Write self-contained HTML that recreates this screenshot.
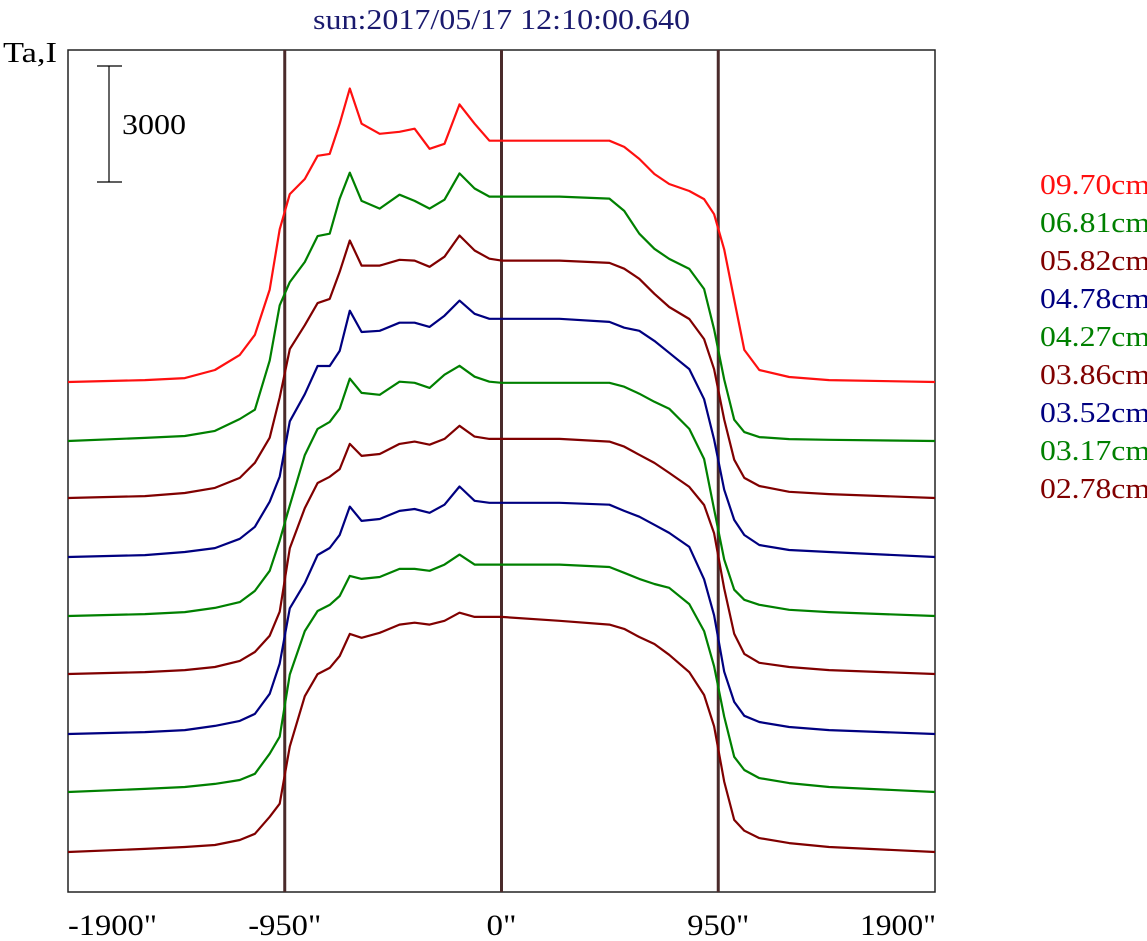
<!DOCTYPE html>
<html><head><meta charset="utf-8"><style>
html,body{margin:0;padding:0;background:#fff;}
svg{display:block;font-family:"Liberation Serif",serif;}
</style></head><body>
<svg id="chart" width="1147" height="941" viewBox="0 0 1147 941" xmlns="http://www.w3.org/2000/svg">
<rect x="0" y="0" width="1147" height="941" fill="#ffffff"/>
<text x="313" y="29" font-size="28" textLength="377" lengthAdjust="spacingAndGlyphs" fill="#1a1a6e">sun:2017/05/17 12:10:00.640</text>
<text x="3" y="62" font-size="28" textLength="54" lengthAdjust="spacingAndGlyphs" fill="#000">Ta,I</text>
<rect x="68" y="50" width="867" height="842" fill="none" stroke="#222" stroke-width="1.5"/>
<g id="scalebar"></g>
<g id="vlines"></g>
<g id="series"></g>
<g id="xticks"></g>
<g id="legend"></g>
</svg>
<script>
const xPos = [-1900,-1563,-1388,-1256,-1147,-1081,-1016,-972,-928,-862,-806,-753,-709,-665,-613,-534,-447,-381,-315,-250,-184,-118,-53,0,254,473,538,604,670,735,823,888,932,976,1020,1064,1130,1261,1436,1900];
const s0970 = [0,50,100,310,700,1220,2390,3950,4860,5250,5850,5900,6680,7590,6680,6420,6470,6550,6030,6160,7180,6680,6240,6240,6240,6240,6080,5770,5380,5120,4940,4730,4340,3430,2130,830,310,130,50,0];
const s0681 = [0,80,130,260,570,810,2080,3510,4110,4630,5300,5360,6270,6940,6210,6010,6370,6210,6010,6240,6920,6530,6320,6320,6320,6270,5950,5360,4970,4710,4450,3930,2890,1590,550,230,100,50,30,0];
const s0582 = [0,50,130,260,520,910,1560,2600,3850,4470,5040,5150,5850,6660,6010,6010,6160,6140,5980,6240,6790,6400,6190,6140,6140,6080,5930,5670,5280,4940,4630,4110,3330,2030,990,520,310,160,100,0];
const s0478 = [0,50,130,230,470,780,1430,2080,3510,4210,4940,4940,5330,6370,5820,5850,6060,6060,5950,6240,6630,6290,6160,6160,6160,6080,5930,5850,5590,5280,4860,4080,3040,1740,960,570,310,180,130,0];
const s0427 = [0,50,100,210,360,650,1170,1950,2860,4160,4840,5020,5360,6140,5770,5720,6060,6030,5900,6240,6470,6190,6060,6030,6030,6030,5930,5750,5540,5360,4840,4060,2760,1460,680,420,290,160,100,0];
const s0386 = [0,50,100,180,340,570,990,1610,3250,4290,4940,5100,5300,5950,5640,5690,5950,6010,5930,6080,6420,6140,6080,6080,6080,6010,5880,5670,5460,5200,4840,4370,3640,2210,1040,520,290,180,100,0];
const s0352 = [0,50,100,210,340,520,1040,1820,3250,3900,4630,4810,5150,5880,5510,5560,5770,5820,5720,5930,6400,6030,5980,5980,5980,5930,5770,5620,5410,5200,4840,4000,3070,1610,830,470,310,180,100,0];
const s0317 = [0,80,130,210,310,470,990,1430,3040,4160,4680,4840,5070,5590,5510,5560,5770,5770,5720,5880,6140,5880,5880,5880,5880,5820,5670,5510,5380,5280,4860,4160,3250,1950,910,570,360,230,130,0];
const s0278 = [0,80,130,180,310,470,910,1250,2730,4030,4600,4760,5070,5640,5540,5670,5880,5930,5880,5980,6190,6080,6080,6080,5980,5880,5770,5560,5380,5100,4650,4060,3250,1820,830,550,360,230,130,0];
const legendLabels = ["09.70cm","06.81cm","05.82cm","04.78cm","04.27cm","03.86cm","03.52cm","03.17cm","02.78cm"];
const tickValues = [-1900,-950,0,950,1900];
const tickLabels = ["-1900\"","-950\"","0\"","950\"","1900\""];
const refLines = [-950,0,950];
const scaleValue = 3000;

const NS = "http://www.w3.org/2000/svg";
const allSeries = [s0970,s0681,s0582,s0478,s0427,s0386,s0352,s0317,s0278];
const colors = ["#ff1010","#008000","#800000","#000080","#008000","#800000","#000080","#008000","#800000"];
const baselines = [382,441,498,557,616,674,734,792,852];
const tickWidths = [89,73,30,62,76];
const xScale = v => 68 + (v + 1900) / 3800 * 867;
const hScale = v => v / 3000 * 116;
function mk(tag, attrs, parent){const e=document.createElementNS(NS,tag);for(const k in attrs)e.setAttribute(k,attrs[k]);parent.appendChild(e);return e;}

const vg = document.getElementById('vlines');
refLines.forEach((v,i)=>{
  const l = mk('line',{x1:xScale(v),x2:xScale(v),y1:50,y2:892,stroke:'#4a2a2a','stroke-width':3},vg);
  
  
});

const sb = document.getElementById('scalebar');
const sTop = 66, sBot = 66 + hScale(scaleValue);
let e1 = mk('line',{x1:109,x2:109,y1:sTop,y2:sBot,stroke:'#000','stroke-width':1.2},sb);


let e2 = mk('line',{x1:97,x2:122,y1:sTop,y2:sTop,stroke:'#000','stroke-width':1.2},sb);


let e3 = mk('line',{x1:97,x2:122,y1:sBot,y2:sBot,stroke:'#000','stroke-width':1.2},sb);


let st = mk('text',{x:122,y:134,'font-size':28,textLength:64,lengthAdjust:'spacingAndGlyphs',fill:'#000'},sb);
st.textContent = String(scaleValue);



const sg = document.getElementById('series');
allSeries.forEach((vals,i)=>{
  const pts = vals.map((v,j)=>xScale(xPos[j]).toFixed(1)+','+(baselines[i]-hScale(v)).toFixed(1)).join(' ');
  const p = mk('polyline',{points:pts,fill:'none',stroke:colors[i],'stroke-width':2.2,'stroke-linejoin':'round'},sg);
  
  
});

const tg = document.getElementById('xticks');
tickValues.forEach((v,i)=>{
  let anchor='middle', x=xScale(v);
  if(i===0){anchor='start';x=68;}
  if(i===tickValues.length-1){anchor='end';x=936;}
  const t = mk('text',{x:x,y:935,'font-size':30,'text-anchor':anchor,textLength:tickWidths[i],lengthAdjust:'spacingAndGlyphs',fill:'#000'},tg);
  t.textContent = tickLabels[i];
  
  
});

const lg = document.getElementById('legend');
legendLabels.forEach((lab,i)=>{
  const t = mk('text',{x:1040,y:194+i*38,'font-size':28,textLength:110,lengthAdjust:'spacingAndGlyphs',fill:colors[i]},lg);
  t.textContent = lab;
  
  
});
</script>
</body></html>
